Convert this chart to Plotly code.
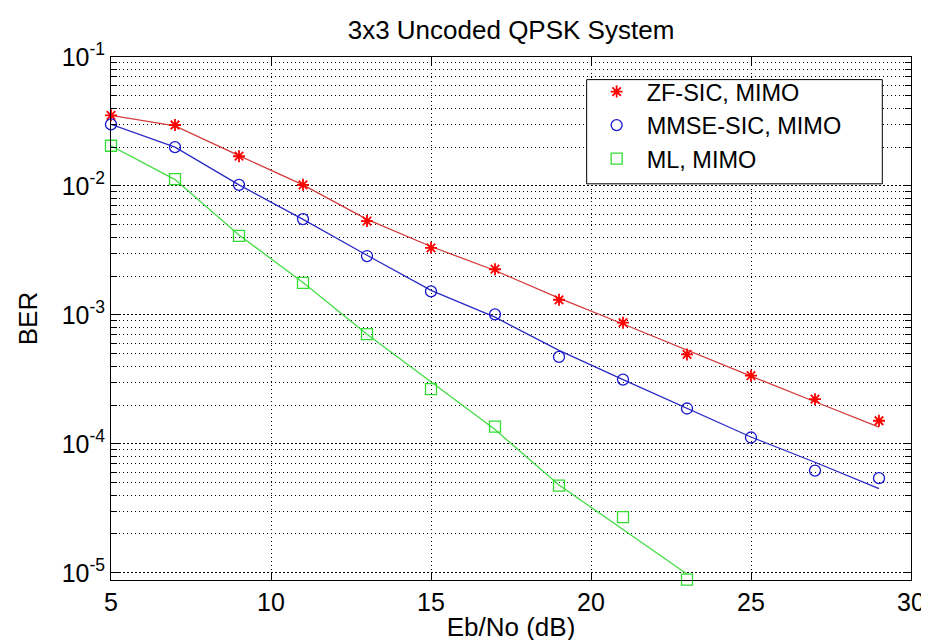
import plotly.graph_objects as go

# ---- data ----
ebno = [5, 7, 9, 11, 13, 15, 17, 19, 21, 23, 25, 27, 29]
ebno_ml = [5, 7, 9, 11, 13, 15, 17, 19, 21, 23]

ber_zf = [0.0353, 0.0297, 0.0170, 0.0102, 5.34e-3, 3.31e-3, 2.26e-3,
          1.31e-3, 8.7e-4, 4.94e-4, 3.38e-4, 2.22e-4, 1.51e-4]
ber_mmse = [0.0300, 0.0200, 0.0102, 5.53e-3, 2.86e-3, 1.52e-3, 1.01e-3,
            4.72e-4, 3.15e-4, 1.88e-4, 1.12e-4, 6.2e-5, 5.42e-5]
ber_ml = [0.0205, 0.0113, 4.1e-3, 1.77e-3, 7.1e-4, 2.66e-4, 1.36e-4,
          4.74e-5, 2.70e-5, 8.85e-6]

fit_zf = [0.0353, 0.0292, 0.0172, 0.0102, 5.5e-3, 3.39e-3, 2.21e-3,
          1.35e-3, 8.5e-4, 5.3e-4, 3.35e-4, 2.12e-4, 1.35e-4]
fit_mmse = [0.0300, 0.0200, 0.0102, 5.5e-3, 2.9e-3, 1.55e-3, 9.6e-4,
            5.3e-4, 3.15e-4, 1.9e-4, 1.13e-4, 7.2e-5, 4.5e-5]
fit_ml = [0.0205, 0.0112, 4.17e-3, 1.78e-3, 7.08e-4, 3.02e-4, 1.29e-4,
          4.79e-5, 2.16e-5, 9.8e-6]

names = ["ZF-SIC, MIMO", "MMSE-SIC, MIMO", "ML, MIMO"]
x_ticks = [5, 10, 15, 20, 25, 30]
y_decades = [-5, -4, -3, -2, -1]
y_tick_labels = ["10<sup>-5</sup>", "10<sup>-4</sup>", "10<sup>-3</sup>",
                 "10<sup>-2</sup>", "10<sup>-1</sup>"]
minor_mult = [2, 3, 4, 5, 6, 7, 8, 9]

y_major = [10.0 ** d for d in y_decades]
y_minor = [m * 10.0 ** d for d in y_decades[:-1] for m in minor_mult]

FONT = "Liberation Sans, Arial, Helvetica, sans-serif"

# plot-area pixel frame (for placing the legend box)
PL, PR, PT, PB = 103, 912, 49, 581
PW, PH = PR - PL, PB - PT

fig = go.Figure()

# fitted lines (no legend)
fig.add_trace(go.Scatter(x=ebno, y=fit_zf, mode="lines",
                         line=dict(color="#d23c3c", width=1.3), showlegend=False))
fig.add_trace(go.Scatter(x=ebno, y=fit_mmse, mode="lines",
                         line=dict(color="#2a2ac4", width=1.3), showlegend=False))
fig.add_trace(go.Scatter(x=ebno_ml, y=fit_ml, mode="lines",
                         line=dict(color="#44dd44", width=1.3), showlegend=False))

# markers
fig.add_trace(go.Scatter(x=ebno, y=ber_zf, mode="markers", name=names[0],
                         cliponaxis=False,
                         marker=dict(symbol="asterisk-open", size=10, color="#ff0000",
                                     line=dict(color="#ff0000", width=1.8))))
fig.add_trace(go.Scatter(x=ebno, y=ber_mmse, mode="markers", name=names[1],
                         cliponaxis=False,
                         marker=dict(symbol="circle-open", size=11, color="#1a1ad0",
                                     line=dict(color="#1a1ad0", width=1.3))))
fig.add_trace(go.Scatter(x=ebno_ml, y=ber_ml, mode="markers", name=names[2],
                         cliponaxis=False,
                         marker=dict(symbol="square-open", size=11, color="#33dd33",
                                     line=dict(color="#33dd33", width=1.3))))

# legend frame (white box with black border, drawn above the data)
fig.add_shape(type="rect", xref="paper", yref="paper", layer="above",
              x0=(584 - PL) / PW, x1=(883 - PL) / PW,
              y0=1 - (178 - PT) / PH, y1=1 - (72 - PT) / PH,
              line=dict(color="black", width=1), fillcolor="white")

fig.update_layout(
    width=929, height=640,
    margin=dict(l=PL, r=929 - PR, t=PT, b=640 - PB),
    paper_bgcolor="white", plot_bgcolor="white",
    font=dict(family=FONT, color="black", size=25),
    title=dict(text="3x3 Uncoded QPSK System", x=0.5, xref="paper",
               xanchor="center", y=1 - 22 / 640, yref="container",
               yanchor="middle", font=dict(size=26, family=FONT, color="black")),
    xaxis=dict(range=[5, 30], tickmode="array", tickvals=x_ticks,
               ticks="inside", ticklen=8, tickcolor="black",
               showline=True, linecolor="black", linewidth=1, mirror="ticks",
               showgrid=True, gridcolor="black", gridwidth=1, griddash="1px,3px",
               zeroline=False, tickfont=dict(size=25),
               title=dict(text="Eb/No (dB)", standoff=2, font=dict(size=26))),
    yaxis=dict(type="log", range=[-5.056, -1], tickmode="array",
               tickvals=y_major, ticktext=y_tick_labels,
               ticks="inside", ticklen=8, tickcolor="black",
               showline=True, linecolor="black", linewidth=1, mirror="ticks",
               showgrid=True, gridcolor="black", gridwidth=1, griddash="2px,2px",
               zeroline=False, tickfont=dict(size=25),
               minor=dict(tickmode="array", tickvals=y_minor, ticks="inside",
                          ticklen=6, tickcolor="black", showgrid=True,
                          gridcolor="black", gridwidth=1, griddash="1px,3px"),
               title=dict(text="BER", standoff=16, font=dict(size=26))),
    legend=dict(x=(584 - PL) / PW, y=1 - (62 - PT) / PH,
                xanchor="left", yanchor="top",
                bgcolor="rgba(0,0,0,0)", borderwidth=0,
                font=dict(size=23.5, family=FONT, color="black"),
                itemwidth=50, tracegroupgap=0),
)

fig.write_html("out.html")
